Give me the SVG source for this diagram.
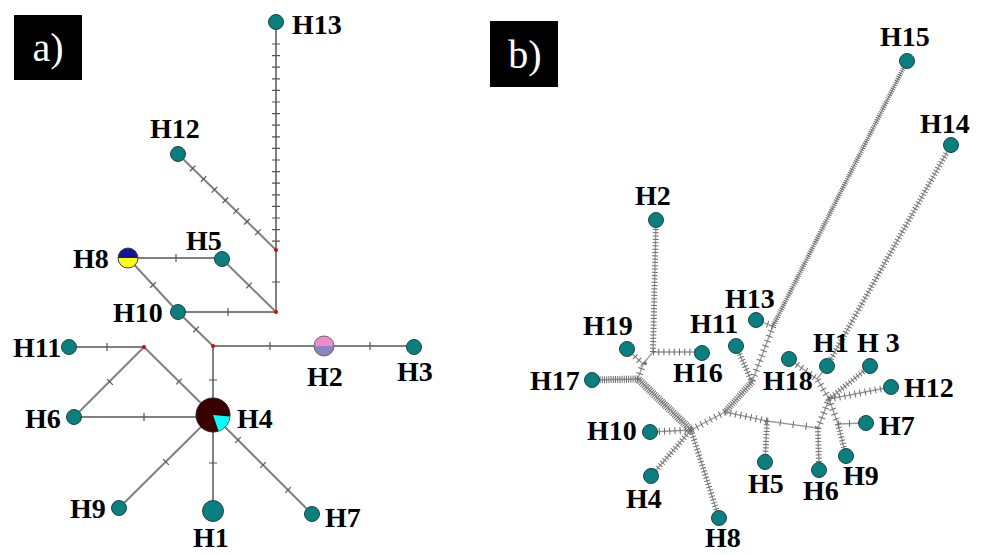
<svg xmlns="http://www.w3.org/2000/svg" width="982" height="554" viewBox="0 0 982 554">
<style>
.bg{fill:#ffffff}
.box{fill:#000000}
.boxt{font-family:"Liberation Serif",serif;fill:#ffffff;font-size:40px}
.lab{font-family:"Liberation Serif",serif;font-weight:bold;font-size:28px;fill:#000000}
.ln{stroke:#808080;stroke-width:2;fill:none}
.tk{stroke:#555555;stroke-width:1.2;fill:none}
.tkd{stroke:#555555;stroke-width:8;fill:none}
.red{fill:#e00000}
.nd{fill:#0b7f7f;stroke:#1c4545;stroke-width:1}
.hb{stroke:#9a9a9a;stroke-width:1.3;fill:none}
.h1{stroke:#6c6c6c;stroke-width:5;stroke-dasharray:1 1.2;fill:none}
.h2{stroke:#6c6c6c;stroke-width:6;stroke-dasharray:1 2.3;fill:none}
.h3{stroke:#6c6c6c;stroke-width:7;stroke-dasharray:1 4.2;fill:none}
.h4{stroke:#6c6c6c;stroke-width:8;stroke-dasharray:1 1;fill:none}
</style>
<rect class="bg" x="0" y="0" width="982" height="554"/>

<!-- Panel a -->
<g id="label-a">
<rect class="box" x="14" y="15" width="68" height="65"/>
<text class="boxt" x="48" y="61" text-anchor="middle">a)</text>
</g>
<g id="a-connectors">
<path class="ln" d="M276 22V312"/>
<path class="tk" d="M272 44h8M272 55.6h8M272 67.2h8M272 78.8h8M272 90.4h8M272 102h8M272 113.6h8M272 125.2h8M272 136.8h8M272 148.4h8M272 160h8M272 171.6h8M272 183.2h8M272 194.8h8M272 206.4h8M272 218h8M272 229.6h8M272 241.2h8M272 282h8"/>
<path class="ln" d="M178 154L276 250"/>
<path class="tkd" d="M178 154L267.3 241.5" stroke-dasharray="1.2 14" stroke-dashoffset="-20"/>
<path class="ln" d="M128 258H222"/>
<path class="tk" d="M176 254v8"/>
<path class="ln" d="M222 259L276 312"/>
<path class="tk" d="M246.2 288.4L251.8 282.6"/>
<path class="ln" d="M178 312H276"/>
<path class="tk" d="M228 308v8"/>
<path class="ln" d="M128 258L178 312L213 346"/>
<path class="tk" d="M150.1 287.7L155.9 282.3M193.2 332.4L198.8 326.6"/>
<path class="ln" d="M213 346H414"/>
<path class="tk" d="M270 342v8M370 342v8"/>
<path class="ln" d="M213 346V511"/>
<path class="tk" d="M209 380h8M209 463h8"/>
<path class="ln" d="M69 347H144L213 415M144 347L74 417H213"/>
<path class="tk" d="M107 343v8M176.2 384.3L181.8 378.7M107.2 379.2L112.8 384.8M144 413v8"/>
<path class="ln" d="M213 415L119 508M213 415L312 514"/>
<path class="tk" d="M163.2 459.2L168.8 464.8M235.2 442.8L240.8 437.2M260.2 467.8L265.8 462.2M285.2 492.8L290.8 487.2"/>
<circle class="red" cx="276" cy="250" r="2"/>
<circle class="red" cx="276" cy="312" r="2"/>
<circle class="red" cx="213" cy="346" r="2"/>
<circle class="red" cx="144" cy="347" r="2"/>
</g>
<g id="a-H13"><circle class="nd" cx="276" cy="22" r="7.5"/><text class="lab" x="292" y="34">H13</text></g>
<g id="a-H12"><circle class="nd" cx="178" cy="154" r="7.5"/><text class="lab" x="150" y="138">H12</text></g>
<g id="a-H8">
<path d="M118 258A10 10 0 0 1 138 258Z" fill="#14149a"/>
<path d="M118 258A10 10 0 0 0 138 258Z" fill="#ffff10"/>
<circle cx="128" cy="258" r="10" fill="none" stroke="#444444" stroke-width="1"/>
<text class="lab" x="73" y="268">H8</text></g>
<g id="a-H5"><circle class="nd" cx="222" cy="259" r="7.5"/><text class="lab" x="186" y="250">H5</text></g>
<g id="a-H10"><circle class="nd" cx="178" cy="312" r="7.5"/><text class="lab" x="113" y="322">H10</text></g>
<g id="a-H2">
<path d="M314 346A10 10 0 0 1 334 346Z" fill="#f08ccc"/>
<path d="M314 346A10 10 0 0 0 334 346Z" fill="#8a86c6"/>
<circle cx="324" cy="346" r="10" fill="none" stroke="#666666" stroke-width="1"/>
<text class="lab" x="307" y="386">H2</text></g>
<g id="a-H3"><circle class="nd" cx="414" cy="347" r="7.5"/><text class="lab" x="397" y="381">H3</text></g>
<g id="a-H11"><circle class="nd" cx="69" cy="347" r="7.5"/><text class="lab" x="13" y="357">H11</text></g>
<g id="a-H6"><circle class="nd" cx="74" cy="417" r="7.5"/><text class="lab" x="25" y="428">H6</text></g>
<g id="a-H4">
<circle cx="213" cy="415" r="17" fill="#3a0000" stroke="#222222" stroke-width="1"/>
<path d="M213 415L229.9 416.5A17 17 0 0 1 218.5 431.1Z" fill="#00ffff"/>
<text class="lab" x="237" y="428">H4</text></g>
<g id="a-H9"><circle class="nd" cx="119" cy="508" r="7.5"/><text class="lab" x="70" y="518">H9</text></g>
<g id="a-H1"><circle class="nd" cx="213" cy="511" r="10.5"/><text class="lab" x="193" y="547">H1</text></g>
<g id="a-H7"><circle class="nd" cx="312" cy="514" r="7.5"/><text class="lab" x="325" y="527">H7</text></g>

<!-- Panel b -->
<g id="label-b">
<rect class="box" x="490" y="21" width="68" height="66"/>
<text class="boxt" x="525" y="68" text-anchor="middle">b)</text>
</g>
<g id="b-connectors">
<path class="hb" d="M907 61L773 326M951 145L827 366M773 326L756 320M773 326L752 382L736 346M752 382L725 412L691 430L638 379L592 380M638 379L643 364L627 349M643 364L653 352L656 220M653 352H702M691 430L650 432M691 430L651 476M691 430L719 518M725 412L767 421L765 462M767 421L818 428L819 470M818 428L829 399L817 379L789 359M817 379L827 366M829 399L870 366M829 399L891 387M829 399L838 424L866 423M838 424L846 456"/>
<path class="h1" d="M907 61L773 326"/>
<path class="h2" d="M951 145L827 366"/>
<path class="h3" d="M773 326L756 320M773 326L752 382"/>
<path class="h2" d="M752 382L736 346"/>
<path class="h1" style="stroke-width:7" d="M752 382L725 412"/>
<path class="h3" d="M725 412L691 430"/>
<path class="h4" d="M691 430L638 379"/>
<path class="h1" style="stroke-width:7" d="M638 379L592 380"/>
<path class="h3" d="M638 379L643 364L627 349"/>
<path class="h2" d="M653 352L656 220"/>
<path class="h3" d="M653 352H702M691 430L650 432"/>
<path class="h2" d="M691 430L651 476M691 430L719 518"/>
<path class="h3" d="M725 412L767 421"/>
<path class="h2" d="M767 421L765 462"/>
<path class="h3" style="stroke-dasharray:1 12" d="M767 421L818 428"/>
<path class="h2" d="M818 428L819 470"/>
<path class="h3" d="M818 428L829 399L817 379L789 359"/>
<path class="h2" d="M829 399L870 366"/>
<path class="h3" d="M829 399L891 387M829 399L838 424"/>
<path class="h3" style="stroke-dasharray:1 10" d="M838 424L866 423"/>
<path class="h2" d="M838 424L846 456"/>
</g>
<g id="b-H15"><circle class="nd" cx="907" cy="61" r="7.5"/><text class="lab" x="880" y="46">H15</text></g>
<g id="b-H14"><circle class="nd" cx="951" cy="145" r="7.5"/><text class="lab" x="920" y="133">H14</text></g>
<g id="b-H2"><circle class="nd" cx="656" cy="220" r="7.5"/><text class="lab" x="635" y="205">H2</text></g>
<g id="b-H13"><circle class="nd" cx="756" cy="320" r="7.5"/><text class="lab" x="725" y="308">H13</text></g>
<g id="b-H11"><circle class="nd" cx="736" cy="346" r="7.5"/><text class="lab" x="690" y="333">H11</text></g>
<g id="b-H19"><circle class="nd" cx="627" cy="349" r="7.5"/><text class="lab" x="583" y="335">H19</text></g>
<g id="b-H16"><circle class="nd" cx="702" cy="353" r="7.5"/><text class="lab" x="673" y="382">H16</text></g>
<g id="b-H17"><circle class="nd" cx="592" cy="380" r="7.5"/><text class="lab" x="530" y="390">H17</text></g>
<g id="b-H18"><circle class="nd" cx="789" cy="359" r="7.5"/><text class="lab" x="763" y="390">H18</text></g>
<g id="b-H1"><circle class="nd" cx="827" cy="366" r="7.5"/><text class="lab" x="813" y="352">H1</text></g>
<g id="b-H3"><circle class="nd" cx="870" cy="366" r="7.5"/><text class="lab" x="857" y="352">H 3</text></g>
<g id="b-H12"><circle class="nd" cx="891" cy="387" r="7.5"/><text class="lab" x="904" y="397">H12</text></g>
<g id="b-H7"><circle class="nd" cx="866" cy="423" r="7.5"/><text class="lab" x="879" y="435">H7</text></g>
<g id="b-H10"><circle class="nd" cx="650" cy="432" r="7.5"/><text class="lab" x="587" y="440">H10</text></g>
<g id="b-H9"><circle class="nd" cx="846" cy="456" r="7.5"/><text class="lab" x="843" y="485">H9</text></g>
<g id="b-H6"><circle class="nd" cx="819" cy="470" r="7.5"/><text class="lab" x="803" y="500">H6</text></g>
<g id="b-H5"><circle class="nd" cx="765" cy="462" r="7.5"/><text class="lab" x="748" y="493">H5</text></g>
<g id="b-H4"><circle class="nd" cx="651" cy="476" r="7.5"/><text class="lab" x="626" y="508">H4</text></g>
<g id="b-H8"><circle class="nd" cx="719" cy="518" r="7.5"/><text class="lab" x="705" y="547">H8</text></g>
</svg>
